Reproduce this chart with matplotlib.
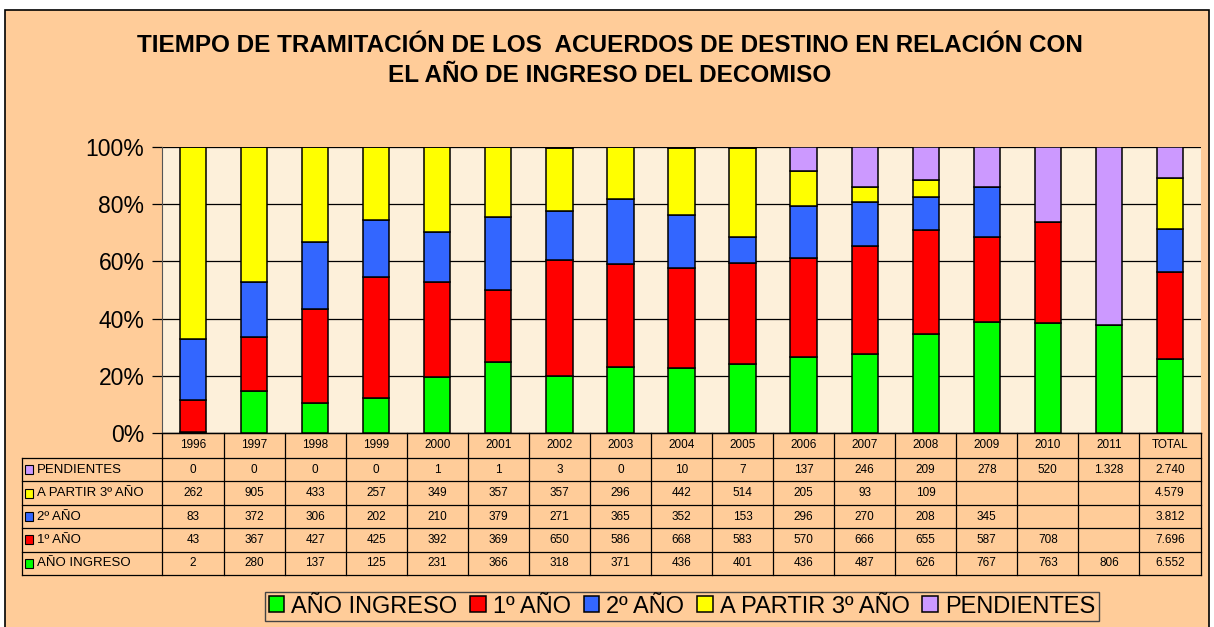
import matplotlib.pyplot as plt
import numpy as np
from matplotlib.patches import Rectangle

plt.rcParams['font.family'] = ['Liberation Sans', 'DejaVu Sans']

years = ['1996', '1997', '1998', '1999', '2000', '2001', '2002', '2003', '2004',
         '2005', '2006', '2007', '2008', '2009', '2010', '2011', 'TOTAL']

# None = empty table cell
ano_ingreso = [2, 280, 137, 125, 231, 366, 318, 371, 436, 401, 436, 487, 626, 767, 763, 806, 6552]
primer_ano = [43, 367, 427, 425, 392, 369, 650, 586, 668, 583, 570, 666, 655, 587, 708, None, 7696]
segundo_ano = [83, 372, 306, 202, 210, 379, 271, 365, 352, 153, 296, 270, 208, 345, None, None, 3812]
tercer_ano = [262, 905, 433, 257, 349, 357, 357, 296, 442, 514, 205, 93, 109, None, None, None, 4579]
pendientes = [0, 0, 0, 0, 1, 1, 3, 0, 10, 7, 137, 246, 209, 278, 520, 1328, 2740]

series = [
    ('AÑO INGRESO', ano_ingreso, '#00FF00'),
    ('1º AÑO', primer_ano, '#FF0000'),
    ('2º AÑO', segundo_ano, '#3366FF'),
    ('A PARTIR 3º AÑO', tercer_ano, '#FFFF00'),
    ('PENDIENTES', pendientes, '#CC99FF'),
]

W, H = 1214, 627
fig = plt.figure(figsize=(W / 100, H / 100), dpi=100, facecolor='white')

# peach chart area with border
fig.patches.append(Rectangle((5 / W, -0.1), 1204 / W, 1.1 - 10 / H, transform=fig.transFigure,
                             facecolor='#FFCC99', edgecolor='black', linewidth=1.2, zorder=-10))

px_left, px_right, px_top, px_bot = 162.5, 1200.5, 147, 433
ax = fig.add_axes([px_left / W, (H - px_bot) / H, (px_right - px_left) / W, (px_bot - px_top) / H])
ax.set_facecolor('#FDF0DA')

vals = np.array([[v if v is not None else 0 for v in s[1]] for s in series], dtype=float)
pct = vals / vals.sum(axis=0) * 100
x = np.arange(len(years))
bottom = np.zeros(len(years))
handles = []
for (name, _, color), p in zip(series, pct):
    b = ax.bar(x, p, width=0.43, bottom=bottom, color=color, edgecolor='black',
               linewidth=1.1, label=name, zorder=3)
    handles.append(b)
    bottom += p

ax.set_xlim(-0.5, len(years) - 0.5)
ax.set_ylim(0, 100)
ax.set_yticks([0, 20, 40, 60, 80, 100])
ax.set_yticklabels(['0%', '20%', '40%', '60%', '80%', '100%'], fontsize=16.5)
ax.yaxis.grid(True, color='black', linewidth=0.9, zorder=1)
ax.tick_params(axis='y', length=7, width=0.9, pad=6)
ax.tick_params(axis='x', length=0, labelbottom=False)
for s in ['top', 'right']:
    ax.spines[s].set_visible(False)
ax.spines['left'].set_color('#555555')
ax.spines['bottom'].set_linewidth(0.9)

# data table below the plot
def ay(py):
    return (px_bot - py) / (px_bot - px_top)

def axx(px):
    return (px - px_left) / (px_right - px_left)

lw = 0.9
hdr_top, hdr_bot = 433, 458
row_h = 23.4
tab_left = 22
rows = list(reversed(series))
tab_bot = hdr_bot + row_h * len(rows)

tr = ax.get_xaxis_transform()
# header row of years
for i, yr in enumerate(years):
    ax.text(i, ay((hdr_top + hdr_bot) / 2), yr, transform=tr, ha='center', va='center',
            fontsize=8.5, clip_on=False)
# horizontal lines
ax.plot([-0.5, len(years) - 0.5], [ay(hdr_top)] * 2, transform=tr, color='black', lw=lw, clip_on=False)
for r in range(len(rows) + 1):
    yy = ay(hdr_bot + r * row_h)
    ax.plot([axx(tab_left), 1], [yy, yy], transform=ax.transAxes, color='black', lw=lw, clip_on=False)
# vertical lines
for i in range(len(years) + 1):
    ax.plot([i - 0.5, i - 0.5], [ay(hdr_top), ay(tab_bot)], transform=tr, color='black', lw=lw, clip_on=False)
ax.plot([axx(tab_left)] * 2, [ay(hdr_bot), ay(tab_bot)], transform=ax.transAxes, color='black', lw=lw, clip_on=False)

for r, (name, values, color) in enumerate(rows):
    yc = ay(hdr_bot + (r + 0.5) * row_h)
    ax.add_patch(Rectangle((axx(25), yc - 4.5 / 286), 8.5 / 1038, 9 / 286, transform=ax.transAxes,
                           facecolor=color, edgecolor='black', linewidth=0.8, clip_on=False))
    ax.text(axx(37), yc, name, transform=ax.transAxes, ha='left', va='center', fontsize=9.5, clip_on=False)
    for i, v in enumerate(values):
        if v is None:
            continue
        txt = f'{v:,}'.replace(',', '.')
        ax.text(i, yc, txt, transform=tr, ha='center', va='center', fontsize=8.5, clip_on=False)

fig.text(610 / W, 1 - 46 / H, 'TIEMPO DE TRAMITACIÓN DE LOS  ACUERDOS DE DESTINO EN RELACIÓN CON',
         ha='center', va='center', fontsize=17.5, fontweight='bold')
fig.text(610 / W, 1 - 76 / H, 'EL AÑO DE INGRESO DEL DECOMISO',
         ha='center', va='center', fontsize=17.5, fontweight='bold')

leg = fig.legend(handles=handles, loc='upper center', bbox_to_anchor=(682 / W, 1 - 592 / H),
                 ncol=5, fontsize=17, frameon=True, fancybox=False, edgecolor='#444444',
                 facecolor='#FFCC99', framealpha=1, handlelength=0.65, handleheight=0.65,
                 handletextpad=0.3, columnspacing=0.55, borderpad=0.15, borderaxespad=0)
leg.get_frame().set_linewidth(1.0)

fig.savefig('out.png', dpi=100, facecolor=fig.get_facecolor())
